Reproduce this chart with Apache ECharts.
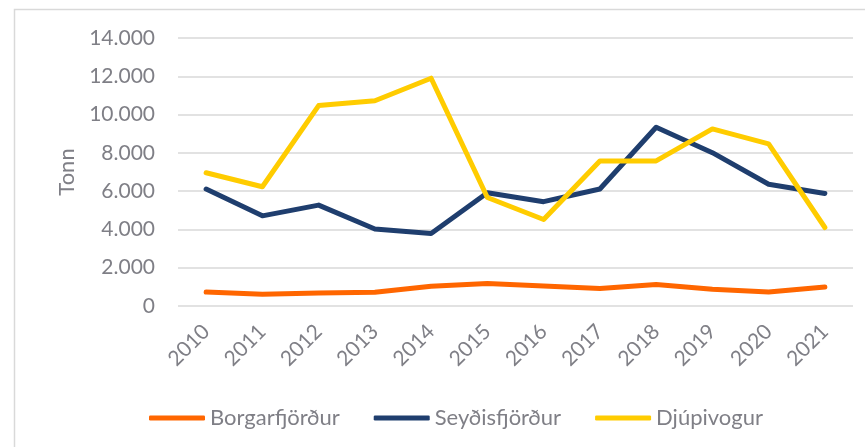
<!DOCTYPE html>
<html>
<head>
<meta charset="utf-8">
<script src="https://cdn.jsdelivr.net/npm/echarts@6/dist/echarts.min.js"></script>
<style>
  html, body { margin: 0; padding: 0; background: #fff; }
  #chart { width: 865px; height: 447px; }
</style>
</head>
<body>
<div id="chart"></div>
<script>
const years = ['2010', '2011', '2012', '2013', '2014', '2015', '2016', '2017', '2018', '2019', '2020', '2021']
const borgarfjordur = [730, 610, 680, 720, 1030, 1170, 1050, 910, 1120, 870, 730, 990]
const seydisfjordur = [6110, 4710, 5270, 4020, 3790, 5920, 5450, 6110, 9340, 8010, 6360, 5880]
const djupivogur = [6960, 6230, 10470, 10720, 11900, 5670, 4520, 7580, 7580, 9250, 8470, 4100]

const textColor = '#7f7f86'
const font = 'Lato'

// icelandic thousands separator
const fmt = (v) => String(v).replace(/\B(?=(\d{3})+(?!\d))/g, '.')

const chart = echarts.init(document.getElementById('chart'))

const lineSeries = (name, data, color) => ({
  name,
  type: 'line',
  data,
  showSymbol: false,
  symbol: 'none',
  lineStyle: { width: 5, color, cap: 'round', join: 'round' },
  itemStyle: { color },
})

chart.setOption({
  animation: false,
  textStyle: { fontFamily: font },
  graphic: [
    {
      type: 'rect',
      shape: { x: 14.5, y: 9.5, width: 900, height: 500 },
      style: { fill: 'none', stroke: '#d9d9d9', lineWidth: 1.5 },
      silent: true,
    },
  ],
  grid: { left: 178, right: 12, top: 38, bottom: 141 },
  legend: {
    left: 144,
    top: 402,
    icon: 'roundRect',
    itemWidth: 56,
    itemHeight: 5,
    itemGap: 34,
    textStyle: { color: textColor, fontSize: 22, fontFamily: font },
    data: ['Borgarfjörður', 'Seyðisfjörður', 'Djúpivogur'],
  },
  xAxis: {
    type: 'category',
    data: years,
    boundaryGap: true,
    axisLine: { show: false },
    axisTick: { show: false },
    axisLabel: { rotate: 45, color: textColor, fontSize: 21, margin: 22, fontFamily: font },
  },
  yAxis: {
    type: 'value',
    min: 0,
    max: 14000,
    interval: 2000,
    name: 'Tonn',
    nameLocation: 'middle',
    nameGap: 100,
    nameRotate: 90,
    nameTextStyle: { color: textColor, fontSize: 22, fontFamily: font },
    axisLine: { show: false },
    axisTick: { show: false },
    axisLabel: { color: textColor, fontSize: 21, margin: 23, fontFamily: font, formatter: fmt },
    splitLine: { lineStyle: { color: '#d9d9d9', width: 1.5 } },
  },
  series: [
    lineSeries('Borgarfjörður', borgarfjordur, '#ff6600'),
    lineSeries('Seyðisfjörður', seydisfjordur, '#1f3e6e'),
    lineSeries('Djúpivogur', djupivogur, '#ffcc00'),
  ],
})
</script>
</body>
</html>
